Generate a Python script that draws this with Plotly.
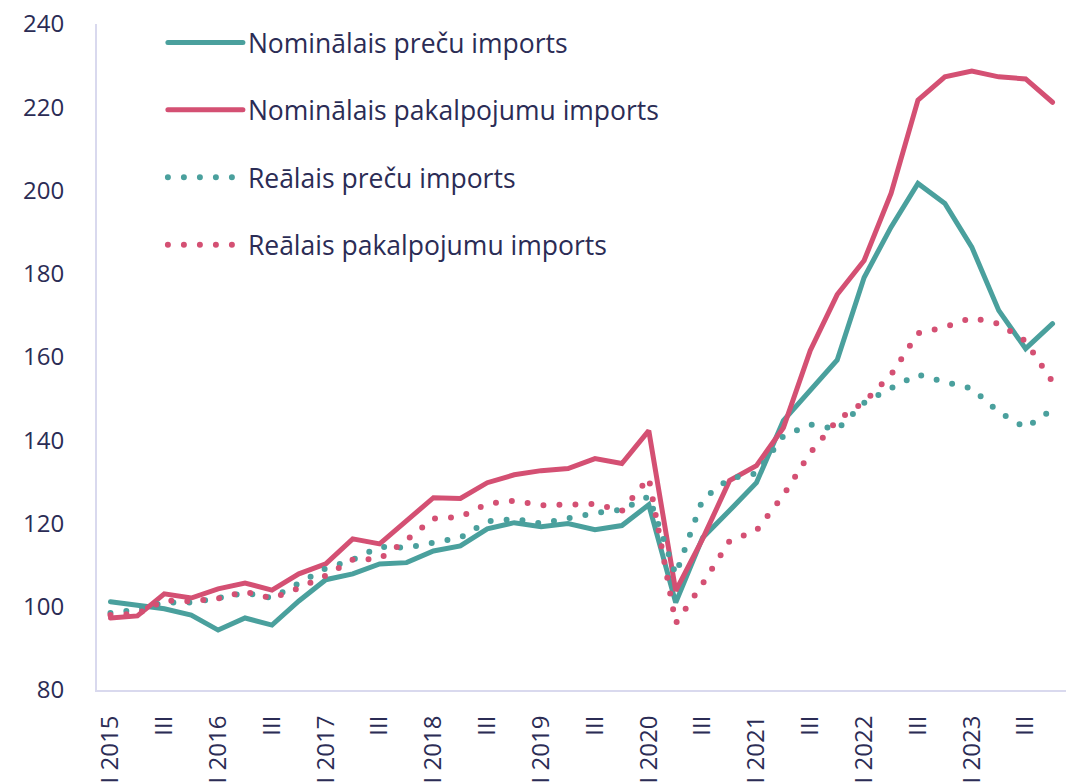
import plotly.graph_objects as go

years = list(range(2015, 2024))
roman = ["I", "II", "III", "IV"]
quarters = [f"{r} {y}" for y in years for r in roman]
tick_vals = [f"{r} {y}" for y in years for r in ["I", "III"]]
tick_text = [t if t.startswith("I ") else "III" for t in tick_vals]

nom_goods = [101.2, 100.4, 99.5, 98.0, 94.4, 97.3, 95.6, 101.4, 106.5, 107.9,
             110.3, 110.6, 113.4, 114.6, 118.7, 120.2, 119.2, 120.0, 118.5, 119.5,
             124.5, 101.0, 116.6, 123.1, 129.8, 144.7, 151.9, 159.3, 179.1, 191.2,
             201.7, 196.9, 186.4, 171.2, 162.0, 168.0]
nom_services = [97.3, 97.8, 103.1, 102.1, 104.3, 105.7, 104.0, 107.9, 110.3, 116.3,
                115.1, 120.7, 126.2, 126.0, 129.8, 131.7, 132.7, 133.2, 135.6, 134.4,
                142.3, 103.8, 116.3, 130.3, 133.9, 143.0, 161.6, 175.0, 183.2, 199.3,
                221.7, 227.3, 228.7, 227.3, 226.8, 221.2]
real_goods = [98.5, 99.3, 101.0, 101.0, 102.1, 103.3, 102.1, 105.5, 109.2, 111.3,
              114.4, 114.2, 115.5, 116.6, 120.5, 121.1, 120.0, 121.2, 122.5, 123.3,
              126.5, 107.7, 125.8, 130.8, 132.0, 141.0, 143.8, 142.6, 149.0, 152.5,
              155.8, 154.0, 152.4, 146.8, 143.0, 147.4]
real_services = [98.0, 98.3, 101.5, 101.3, 102.0, 103.6, 102.0, 104.5, 107.5, 111.3,
                 111.5, 116.0, 121.2, 121.6, 124.7, 125.5, 124.4, 124.5, 124.7, 123.0,
                 131.0, 96.0, 105.5, 115.8, 118.3, 126.8, 137.0, 144.8, 149.2, 155.7,
                 165.7, 167.2, 169.4, 168.0, 163.8, 154.0]

names = ["Nominālais preču imports", "Nominālais pakalpojumu imports",
         "Reālais preču imports", "Reālais pakalpojumu imports"]

TEAL = "#4AA09D"
RED = "#D45073"
TEXT = "#2B2C55"
AXIS = "#D9D9EE"
FONT = "Open Sans"

series = [
    (nom_goods, TEAL, "solid", 5),
    (nom_services, RED, "solid", 5),
    (real_goods, TEAL, "0px,16px", 6),
    (real_services, RED, "0px,16px", 6),
]

fig = go.Figure()
for i, (vals, col, dash, w) in enumerate(series):
    fig.add_trace(go.Scatter(
        x=quarters, y=vals, mode="lines", name=names[i],
        line=dict(color=col, width=w, dash=dash),
        legendgroup=f"g{i}",
    ))

fig.update_layout(
    width=1066, height=783,
    margin=dict(l=97, r=0, t=24, b=93),
    paper_bgcolor="white", plot_bgcolor="white",
    font=dict(family=FONT, size=24, color=TEXT),
    showlegend=True,
    legend=dict(
        x=0.068, y=1.008, xanchor="left", yanchor="top",
        bgcolor="rgba(0,0,0,0)", itemwidth=75,
        tracegroupgap=30, traceorder="grouped",
        font=dict(family=FONT, size=26.5, color=TEXT),
    ),
    xaxis=dict(
        type="category", categoryorder="array", categoryarray=quarters,
        range=[-0.5, 35.5],
        tickmode="array", tickvals=tick_vals, ticktext=tick_text,
        tickangle=-90, showgrid=False, zeroline=False,
        showline=True, linecolor=AXIS, linewidth=2,
        ticks="", ticklabelstandoff=14,
        tickfont=dict(family=FONT, size=24, color=TEXT),
    ),
    yaxis=dict(
        range=[80, 240], dtick=20, tick0=80,
        showgrid=False, zeroline=False,
        showline=True, linecolor=AXIS, linewidth=2,
        ticks="", ticklabelstandoff=26,
        tickfont=dict(family=FONT, size=24, color=TEXT),
    ),
)

post = ("var s=document.createElement('style');"
        "s.innerHTML='body{margin:0;}.js-line{stroke-linecap:round;}';"
        "document.head.appendChild(s);")

fig.write_html("out.html", post_script=post, config={"displayModeBar": False})
